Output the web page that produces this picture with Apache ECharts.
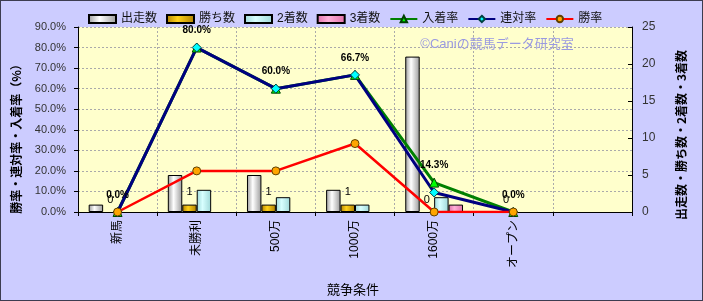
<!DOCTYPE html>
<html><head><meta charset="utf-8">
<script src="https://cdn.jsdelivr.net/npm/echarts@6/dist/echarts.min.js"></script>
<style>
html,body{margin:0;padding:0;background:#ccccff;}
#c{width:703px;height:301px;box-sizing:border-box;border:1px solid #3c3c50;}
</style></head><body>
<div id="c"></div>
<script>
const categories = ['新馬','未勝利','500万','1000万','1600万','オープン',''];
const starts = [1,5,5,3,21,0,null];
const wins = [0,1,1,1,0,0,null];
const seconds = [0,3,2,1,2,0,null];
const thirds = [0,0,0,0,1,0,null];
const placeRate = [0,80,60,66.7,14.3,0,null];
const quinellaRate = [0,80,60,66.7,9.5,0,null];
const winRate = [0,20,20,33.3,0,0,null];
const leftTicks = {min:0,max:90,interval:10};
const rightTicks = {min:0,max:25,interval:5};

const FONT = '"Liberation Sans","Noto Sans CJK JP",sans-serif';
function grad(edge, mid){
  return new echarts.graphic.LinearGradient(0,0,1,0,[
    {offset:0,color:edge},{offset:0.4,color:mid},{offset:1,color:edge}]);
}
// zero-height bars are drawn without an outline
function barData(arr){
  return arr.map(v => (v === 0 ? {value:0, itemStyle:{borderWidth:0}} : v));
}
const chart = echarts.init(document.getElementById('c'));
const barBase = {type:'bar', yAxisIndex:1, barGap:'0%', barCategoryGap:'27%'};
chart.setOption({
  animation:false,
  backgroundColor:'#ccccff',
  textStyle:{fontFamily:FONT},
  grid:{left:77,right:70,top:26,bottom:88,show:true,backgroundColor:'#ffffcc',borderWidth:0},
  legend:{
    left:82, top:7, itemWidth:27, itemHeight:8, itemGap:9,
    textStyle:{fontSize:12,color:'#111',fontFamily:FONT},
    data:[
      {name:'出走数',icon:'rect'},{name:'勝ち数',icon:'rect'},{name:'2着数',icon:'rect'},{name:'3着数',icon:'rect'},
      {name:'入着率'},{name:'連対率'},{name:'勝率'}
    ]
  },
  xAxis:{
    type:'category', data:categories, boundaryGap:true,
    axisLine:{lineStyle:{color:'#000',width:1}},
    axisTick:{show:true,length:4,lineStyle:{color:'#000'}},
    splitLine:{show:true,lineStyle:{color:'#aaaaaa',type:[2,2]}},
    axisLabel:{rotate:90,fontSize:12,color:'#000',margin:8,fontFamily:FONT}
  },
  yAxis:[
    {type:'value',min:leftTicks.min,max:leftTicks.max,interval:leftTicks.interval,
     axisLine:{show:true,lineStyle:{color:'#000'}},
     axisTick:{show:true,length:4,lineStyle:{color:'#000'}},
     splitLine:{show:true,lineStyle:{color:'#aaaaaa',type:[2,2]}},
     axisLabel:{fontSize:11,color:'#333',margin:12,formatter:v=>v.toFixed(1)+'%'}},
    {type:'value',min:rightTicks.min,max:rightTicks.max,interval:rightTicks.interval,position:'right',
     axisLine:{show:true,lineStyle:{color:'#000'}},
     axisTick:{show:true,inside:true,length:4,lineStyle:{color:'#000'}},
     splitLine:{show:false},
     axisLabel:{fontSize:12,color:'#333',margin:10}}
  ],
  graphic:[
    {type:'text',x:496,y:43,z:100,style:{text:'©Caniの競馬データ研究室',fill:'#9a9ae0',font:'13px '+FONT,textAlign:'center',textVerticalAlign:'middle'}},
    {type:'text',x:15,y:135,rotation:Math.PI/2,style:{text:'勝率・連対率・入着率（%）',fill:'#000',font:'bold 12px "Noto Sans CJK JP",sans-serif',textAlign:'center',textVerticalAlign:'middle'}},
    {type:'text',x:680,y:134,rotation:Math.PI/2,style:{text:'出走数・勝ち数・2着数・3着数',fill:'#000',font:'bold 12px "Noto Sans CJK JP",sans-serif',textAlign:'center',textVerticalAlign:'middle'}},
    {type:'text',x:352,y:288,style:{text:'競争条件',fill:'#000',font:'13px "Noto Sans CJK JP",sans-serif',textAlign:'center',textVerticalAlign:'middle'}}
  ],
  series:[
    Object.assign({},barBase,{name:'出走数',data:barData(starts),itemStyle:{color:grad('#9a9a9a','#ffffff'),borderColor:'#000',borderWidth:1}}),
    Object.assign({},barBase,{name:'勝ち数',data:barData(wins),itemStyle:{color:grad('#b08000','#ffd21a'),borderColor:'#000',borderWidth:1},
      label:{show:true,position:'top',distance:7,fontSize:11,color:'#000',fontFamily:FONT}}),
    Object.assign({},barBase,{name:'2着数',data:barData(seconds),itemStyle:{color:grad('#9ed8d8','#d8ffff'),borderColor:'#000',borderWidth:1}}),
    Object.assign({},barBase,{name:'3着数',data:barData(thirds),itemStyle:{color:grad('#e070a8','#ffb0d8'),borderColor:'#000',borderWidth:1}}),
    {type:'line',name:'入着率',yAxisIndex:0,data:placeRate,symbol:'triangle',symbolSize:9,
     lineStyle:{color:'#008000',width:3},itemStyle:{color:'#00ff00',borderColor:'#004000',borderWidth:1},
     label:{show:true,position:'top',distance:7,fontSize:10,fontWeight:'bold',color:'#000',fontFamily:FONT,formatter:p=>p.value.toFixed(1)+'%'}},
    {type:'line',name:'連対率',yAxisIndex:0,data:quinellaRate,symbol:'diamond',symbolSize:9,
     lineStyle:{color:'#000080',width:3},itemStyle:{color:'#00ffff',borderColor:'#004040',borderWidth:1}},
    {type:'line',name:'勝率',yAxisIndex:0,data:winRate,symbol:'circle',symbolSize:8,
     lineStyle:{color:'#ff0000',width:2.5},itemStyle:{color:'#ffa500',borderColor:'#604000',borderWidth:1}}
  ]
});
</script></body></html>
